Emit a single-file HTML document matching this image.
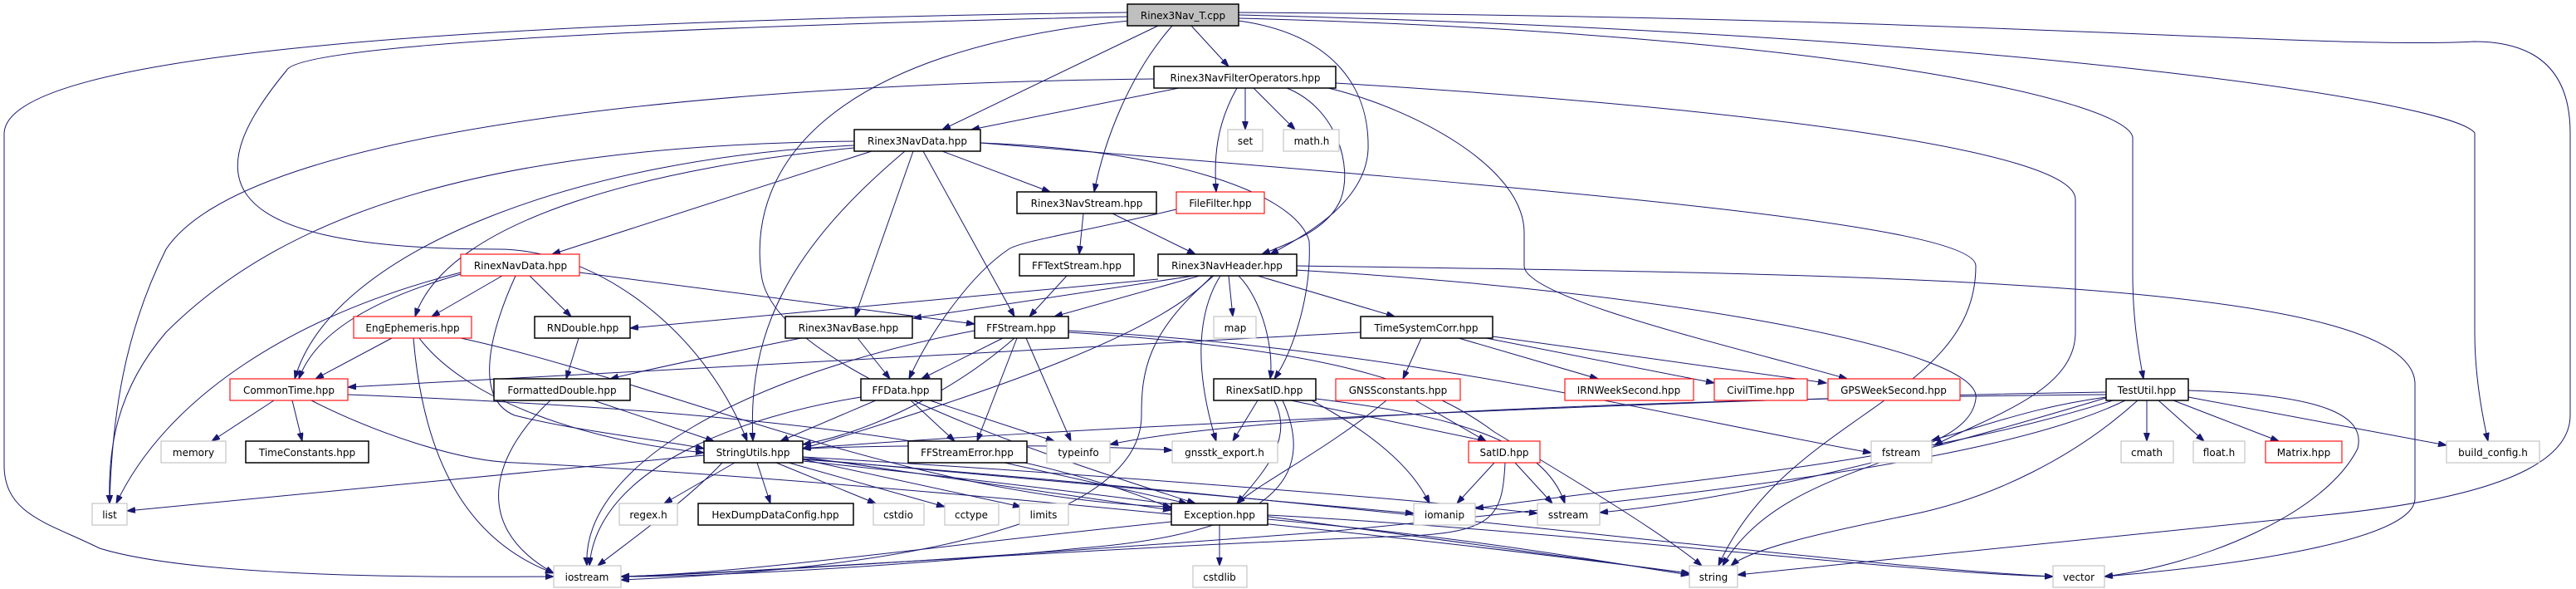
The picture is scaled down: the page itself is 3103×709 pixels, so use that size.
<!DOCTYPE html>
<html><head><meta charset="utf-8"><style>
html,body{margin:0;padding:0;background:#fff}
svg{display:block}
text{font-family:"DejaVu Sans","Liberation Sans",sans-serif;font-size:12px;fill:#000;text-anchor:middle}
.b{fill:#fff;stroke:#000;stroke-width:1.5}
.r{fill:#fff;stroke:#ff0000;stroke-width:1.1}
.g{fill:#fff;stroke:#bfbfbf;stroke-width:1.1}
.e path{fill:none;stroke:#191970;stroke-width:1;marker-end:url(#a)}
</style></head><body>
<svg width="3103" height="709" viewBox="0 0 3103 709" xmlns="http://www.w3.org/2000/svg">
<defs><marker id="a" markerUnits="userSpaceOnUse" markerWidth="11" markerHeight="8" refX="10" refY="3.5" orient="auto"><path d="M0,0 L10,3.5 L0,7 z" fill="#191970" stroke="#191970"/></marker></defs>
<g class="e">
<path d="M1435,31 L1480,80"/>
<path d="M1395,31 L1135,156"/>
<path d="M1412,31 C1360,90 1330,170 1318,231"/>
<path d="M1492,25 C1600,40 1650,100 1648,180 C1645,240 1580,280 1530,306"/>
<path d="M1358,20 C900,30 360,50 345,85 C250,200 230,300 600,300 C720,300 850,400 900,531"/>
<path d="M1358,15 C600,25 10,60 5,160 L5,560 C5,620 60,630 120,660 C250,700 600,694 667,694"/>
<path d="M1360,25 C1000,60 900,200 917,330 C930,450 1300,560 1440,606"/>
<path d="M1492,22 C2200,40 2560,120 2569,165 L2569,330 C2569,380 2575,420 2582,456"/>
<path d="M1492,18 C2400,40 2950,120 2981,160 L2981,400 C2981,450 2990,500 2997,531"/>
<path d="M1492,15 C2400,20 2800,60 2980,50 C3050,50 3096,80 3096,160 L3096,500 C3096,560 3000,600 2800,620 C2500,650 2200,680 2093,692"/>
<path d="M1420,106 L1170,156"/>
<path d="M1390,95 C900,100 300,150 200,300 C150,400 135,500 132,606"/>
<path d="M1500,106 L1500,156"/>
<path d="M1510,106 L1560,156"/>
<path d="M1490,106 C1465,150 1462,190 1465,231"/>
<path d="M1550,106 C1610,130 1630,200 1615,240 C1600,275 1560,290 1520,306"/>
<path d="M1600,106 C1700,130 1836,200 1836,280 L1836,320 C1836,360 2100,420 2225,456"/>
<path d="M1609,100 C2100,130 2500,180 2500,240 L2500,400 C2500,470 2400,500 2330,536"/>
<path d="M1029,170 C600,175 350,250 200,400 C140,470 130,540 132,606"/>
<path d="M1029,175 C700,190 400,300 355,456"/>
<path d="M1029,178 C800,200 540,260 500,381"/>
<path d="M1050,182 L665,306"/>
<path d="M1090,182 C950,300 900,400 907,531"/>
<path d="M1100,182 L1030,381"/>
<path d="M1112,182 L1222,381"/>
<path d="M1135,182 L1265,231"/>
<path d="M1181,172 C1400,180 1560,230 1577,290 C1580,350 1560,420 1535,456"/>
<path d="M1181,172 C1900,230 2380,270 2380,320 C2380,480 2150,500 2070,681"/>
<path d="M1305,257 L1300,306"/>
<path d="M1340,257 L1440,306"/>
<path d="M1417,252 C1300,280 1230,290 1215,300 C1170,330 1120,400 1095,456"/>
<path d="M1285,332 L1240,381"/>
<path d="M1438,332 L1100,383"/>
<path d="M1395,336 L759,395"/>
<path d="M1445,332 L1270,381"/>
<path d="M1480,332 L1485,381"/>
<path d="M1492,332 C1520,360 1535,420 1530,456"/>
<path d="M1470,332 C1440,380 1440,450 1465,531"/>
<path d="M1515,332 L1680,381"/>
<path d="M1460,332 C1400,400 1200,470 967,540"/>
<path d="M1462,332 C1380,400 1375,450 1375,500 C1375,600 1200,680 748,698"/>
<path d="M1562,320 C2300,330 2900,340 2909,460 L2909,600 C2909,650 2700,680 2535,694"/>
<path d="M1560,325 C2000,350 2390,420 2380,480 C2370,560 2150,550 2075,681"/>
<path d="M1639,400 L419,466"/>
<path d="M1712,407 L1690,456"/>
<path d="M1757,407 L1925,456"/>
<path d="M1790,407 L2065,461"/>
<path d="M1798,405 L2200,461"/>
<path d="M555,330 C450,360 380,400 360,456"/>
<path d="M605,332 L520,381"/>
<path d="M638,332 L688,381"/>
<path d="M555,328 C350,380 200,480 140,606"/>
<path d="M698,328 L1174,390"/>
<path d="M621,332 C590,400 570,480 620,500 C700,520 800,530 848,540"/>
<path d="M472,407 L380,456"/>
<path d="M498,407 C510,550 560,650 667,690"/>
<path d="M505,407 C560,480 700,530 848,545"/>
<path d="M555,407 C800,460 1100,600 1411,610"/>
<path d="M697,407 L682,456"/>
<path d="M330,482 L255,531"/>
<path d="M352,482 L364,531"/>
<path d="M419,475 C800,490 1200,520 1411,612"/>
<path d="M375,482 C450,520 550,555 620,557 C900,570 1500,620 2035,690"/>
<path d="M663,482 C600,540 560,630 667,690"/>
<path d="M715,482 L860,531"/>
<path d="M1033,407 L1072,456"/>
<path d="M965,407 C900,420 800,440 735,456"/>
<path d="M1208,407 L1110,456"/>
<path d="M1222,407 C1150,470 1050,520 967,535"/>
<path d="M1225,407 L1177,531"/>
<path d="M1236,407 L1290,531"/>
<path d="M1174,398 C900,450 700,560 707,681"/>
<path d="M1287,398 C1700,420 2000,500 2254,545"/>
<path d="M1287,400 C1600,420 1720,460 1800,520 C1900,580 2000,640 2050,681"/>
<path d="M1055,482 L940,531"/>
<path d="M1097,482 L1150,531"/>
<path d="M1120,482 L1270,531"/>
<path d="M1037,478 C900,500 720,560 710,681"/>
<path d="M1210,557 L1430,606"/>
<path d="M1515,482 L1485,531"/>
<path d="M1555,482 L1790,531"/>
<path d="M1535,482 C1560,530 1520,570 1490,606"/>
<path d="M1545,482 C1580,560 1560,640 1300,660 C1000,690 800,694 748,694"/>
<path d="M1585,480 C1750,500 1860,530 1885,606"/>
<path d="M1580,482 C1650,520 1700,560 1722,606"/>
<path d="M1705,482 L1790,531"/>
<path d="M1670,482 C1600,540 1520,580 1490,606"/>
<path d="M1800,557 L1755,606"/>
<path d="M1825,557 L1870,606"/>
<path d="M1813,557 C1810,620 1800,640 1700,645 C1300,660 900,690 748,694"/>
<path d="M848,548 L153,615"/>
<path d="M885,557 L800,606"/>
<path d="M912,557 L928,606"/>
<path d="M935,557 L1055,606"/>
<path d="M950,557 L1138,610"/>
<path d="M967,553 L1230,610"/>
<path d="M967,550 L1411,614"/>
<path d="M870,557 C830,600 760,650 720,681"/>
<path d="M967,552 L1703,618"/>
<path d="M967,550 C1300,570 1700,600 1852,618"/>
<path d="M967,555 C1400,600 1800,660 2035,690"/>
<path d="M967,553 C1600,600 2200,680 2473,694"/>
<path d="M967,540 C1100,535 1300,535 1412,542"/>
<path d="M1469,632 L1469,681"/>
<path d="M1411,628 C1100,660 900,690 748,694"/>
<path d="M1527,625 C1800,650 1950,680 2035,692"/>
<path d="M1527,620 C1900,640 2300,690 2473,694"/>
<path d="M2537,472 C2000,480 1200,520 967,540"/>
<path d="M2586,482 L2586,531"/>
<path d="M2600,482 L2655,531"/>
<path d="M2618,482 L2745,531"/>
<path d="M2636,478 L2947,536"/>
<path d="M2636,470 C2800,475 2850,500 2840,540 C2800,620 2650,680 2535,694"/>
<path d="M2575,482 C2500,550 2400,600 2300,620 C2200,640 2110,660 2085,681"/>
<path d="M2560,482 C2400,560 2000,600 1600,640 C1200,670 900,690 748,694"/>
<path d="M2545,482 C2300,560 2000,580 1777,612"/>
<path d="M2540,478 C2300,550 2100,600 1927,617"/>
<path d="M2537,478 C2450,490 2400,510 2327,530"/>
<path d="M2537,475 C2000,480 1500,500 1337,535"/>
</g>
<g>
<rect x="1358" y="5" width="134" height="26" fill="#bfbfbf" stroke="#000" stroke-width="1.5"/><text x="1425" y="23">Rinex3Nav_T.cpp</text>
<rect class="b" x="1390" y="80" width="219" height="26"/><text x="1500" y="98">Rinex3NavFilterOperators.hpp</text>
<rect class="b" x="1029" y="156" width="152" height="26"/><text x="1105" y="174">Rinex3NavData.hpp</text>
<rect class="g" x="1479" y="156" width="42" height="26"/><text x="1500" y="174">set</text>
<rect class="g" x="1546" y="156" width="67" height="26"/><text x="1580" y="174">math.h</text>
<rect class="b" x="1225" y="231" width="168" height="26"/><text x="1309" y="249">Rinex3NavStream.hpp</text>
<rect class="r" x="1417" y="231" width="106" height="26"/><text x="1470" y="249">FileFilter.hpp</text>
<rect class="r" x="555" y="306" width="143" height="26"/><text x="627" y="324">RinexNavData.hpp</text>
<rect class="b" x="1228" y="306" width="138" height="26"/><text x="1297" y="324">FFTextStream.hpp</text>
<rect class="b" x="1395" y="306" width="167" height="26"/><text x="1478" y="324">Rinex3NavHeader.hpp</text>
<rect class="r" x="426" y="381" width="142" height="26"/><text x="497" y="399">EngEphemeris.hpp</text>
<rect class="b" x="644" y="381" width="115" height="26"/><text x="702" y="399">RNDouble.hpp</text>
<rect class="b" x="946" y="381" width="153" height="26"/><text x="1022" y="399">Rinex3NavBase.hpp</text>
<rect class="b" x="1174" y="381" width="113" height="26"/><text x="1230" y="399">FFStream.hpp</text>
<rect class="g" x="1462" y="381" width="51" height="26"/><text x="1488" y="399">map</text>
<rect class="b" x="1639" y="381" width="159" height="26"/><text x="1718" y="399">TimeSystemCorr.hpp</text>
<rect class="r" x="277" y="456" width="142" height="26"/><text x="348" y="474">CommonTime.hpp</text>
<rect class="b" x="595" y="456" width="164" height="26"/><text x="677" y="474">FormattedDouble.hpp</text>
<rect class="b" x="1037" y="456" width="97" height="26"/><text x="1085" y="474">FFData.hpp</text>
<rect class="b" x="1462" y="456" width="123" height="26"/><text x="1523" y="474">RinexSatID.hpp</text>
<rect class="r" x="1609" y="456" width="150" height="26"/><text x="1684" y="474">GNSSconstants.hpp</text>
<rect class="r" x="1885" y="456" width="155" height="26"/><text x="1962" y="474">IRNWeekSecond.hpp</text>
<rect class="r" x="2065" y="456" width="112" height="26"/><text x="2121" y="474">CivilTime.hpp</text>
<rect class="r" x="2202" y="456" width="159" height="26"/><text x="2281" y="474">GPSWeekSecond.hpp</text>
<rect class="b" x="2537" y="456" width="99" height="26"/><text x="2586" y="474">TestUtil.hpp</text>
<rect class="g" x="194" y="531" width="78" height="26"/><text x="233" y="549">memory</text>
<rect class="b" x="296" y="531" width="148" height="26"/><text x="370" y="549">TimeConstants.hpp</text>
<rect class="b" x="848" y="531" width="119" height="26"/><text x="907" y="549">StringUtils.hpp</text>
<rect class="b" x="1094" y="531" width="143" height="26"/><text x="1165" y="549">FFStreamError.hpp</text>
<rect class="g" x="1261" y="531" width="76" height="26"/><text x="1299" y="549">typeinfo</text>
<rect class="g" x="1412" y="531" width="127" height="26"/><text x="1475" y="549">gnsstk_export.h</text>
<rect class="r" x="1769" y="531" width="86" height="26"/><text x="1812" y="549">SatID.hpp</text>
<rect class="g" x="2254" y="531" width="73" height="26"/><text x="2290" y="549">fstream</text>
<rect class="g" x="2555" y="531" width="63" height="26"/><text x="2586" y="549">cmath</text>
<rect class="g" x="2642" y="531" width="62" height="26"/><text x="2673" y="549">float.h</text>
<rect class="r" x="2729" y="531" width="92" height="26"/><text x="2775" y="549">Matrix.hpp</text>
<rect class="g" x="2947" y="531" width="112" height="26"/><text x="3003" y="549">build_config.h</text>
<rect class="g" x="111" y="606" width="42" height="26"/><text x="132" y="624">list</text>
<rect class="g" x="746" y="606" width="70" height="26"/><text x="781" y="624">regex.h</text>
<rect class="b" x="841" y="606" width="187" height="26"/><text x="934" y="624">HexDumpDataConfig.hpp</text>
<rect class="g" x="1052" y="606" width="61" height="26"/><text x="1082" y="624">cstdio</text>
<rect class="g" x="1138" y="606" width="65" height="26"/><text x="1170" y="624">cctype</text>
<rect class="g" x="1228" y="606" width="59" height="26"/><text x="1257" y="624">limits</text>
<rect class="b" x="1411" y="606" width="116" height="26"/><text x="1469" y="624">Exception.hpp</text>
<rect class="g" x="1703" y="606" width="74" height="26"/><text x="1740" y="624">iomanip</text>
<rect class="g" x="1852" y="606" width="75" height="26"/><text x="1889" y="624">sstream</text>
<rect class="g" x="667" y="681" width="81" height="26"/><text x="707" y="699">iostream</text>
<rect class="g" x="1437" y="681" width="65" height="26"/><text x="1469" y="699">cstdlib</text>
<rect class="g" x="2035" y="681" width="58" height="26"/><text x="2064" y="699">string</text>
<rect class="g" x="2473" y="681" width="62" height="26"/><text x="2504" y="699">vector</text>
</g>
</svg>
</body></html>
